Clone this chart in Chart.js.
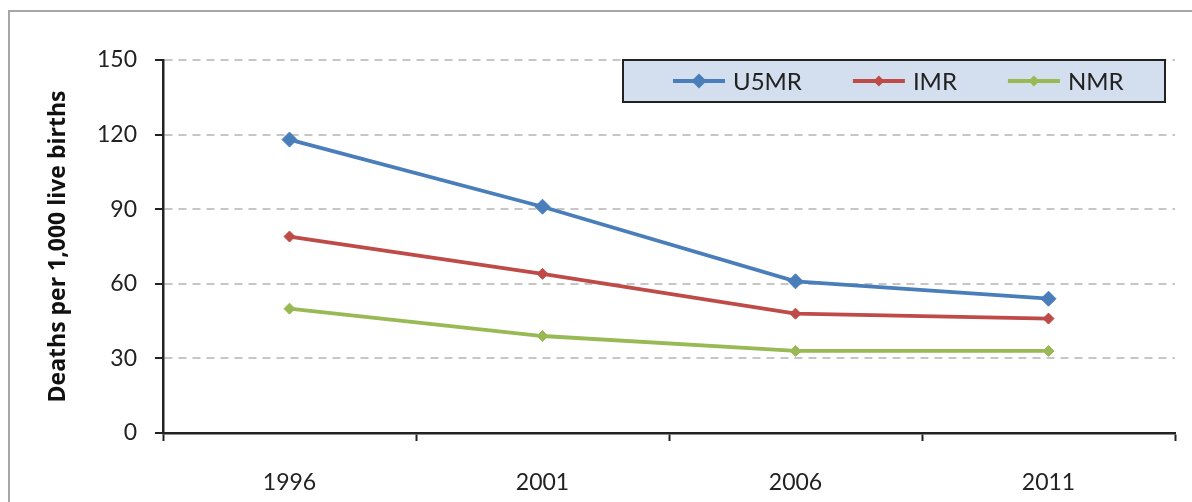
<!DOCTYPE html>
<html>
<head>
<meta charset="utf-8">
<script src="https://cdn.jsdelivr.net/npm/chart.js@4.4.0/dist/chart.umd.min.js"></script>
<style>
  body { margin: 0; background: #fff; overflow: hidden; }
  #wrap { position: relative; width: 1192px; height: 502px; }
  #frame { position: absolute; left: 8px; top: 10px; width: 1400px; height: 800px;
           border-top: 2px solid #a6a6a6; border-left: 2px solid #a6a6a6; }
  canvas { position: absolute; left: 0; top: 0; }
</style>
</head>
<body>
<div id="wrap">
  <div id="frame"></div>
  <canvas id="main-chart" width="1192" height="502"></canvas>
</div>
<script>
// survey years and rates (deaths per 1,000 live births)
const years = ['1996', '2001', '2006', '2011'];
const u5mr = [118, 91, 61, 54];
const imr = [79, 64, 48, 46];
const nmr = [50, 39, 33, 33];
const yTicks = [0, 30, 60, 90, 120, 150];

const FONT = 'Lato, "Open Sans", sans-serif';

// legend drawn as a framed box inside the plot, like the original
const boxLegend = {
  id: 'boxLegend',
  afterDraw(chart) {
    const ctx = chart.ctx;
    const bx = 623, by = 60, bw = 542, bh = 42;
    ctx.save();
    ctx.fillStyle = '#d3dfef';
    ctx.fillRect(bx, by, bw, bh);
    ctx.lineWidth = 2;
    ctx.strokeStyle = '#222';
    ctx.strokeRect(bx, by, bw, bh);
    ctx.font = '24px ' + FONT;
    ctx.textBaseline = 'middle';
    let x = bx + 50;
    const cy = by + bh / 2;
    chart.data.datasets.forEach(ds => {
      ctx.strokeStyle = ds.borderColor;
      ctx.lineWidth = 3.8;
      ctx.beginPath();
      ctx.moveTo(x, cy);
      ctx.lineTo(x + 52, cy);
      ctx.stroke();
      const r = ds.pointRadius;
      ctx.fillStyle = ds.borderColor;
      ctx.beginPath();
      ctx.moveTo(x + 26, cy - r);
      ctx.lineTo(x + 26 + r, cy);
      ctx.lineTo(x + 26, cy + r);
      ctx.lineTo(x + 26 - r, cy);
      ctx.closePath();
      ctx.fill();
      ctx.fillStyle = '#222';
      ctx.fillText(ds.label, x + 60, cy + 1);
      x += 60 + ctx.measureText(ds.label).width + 51;
    });
    ctx.restore();
  }
};

const mk = (label, data, color, r) => ({
  label, data,
  borderColor: color,
  backgroundColor: color,
  borderWidth: 3.8,
  pointStyle: 'rectRot',
  pointRadius: r,
  pointBorderWidth: 1,
  pointBackgroundColor: color,
  pointBorderColor: color,
  tension: 0
});

const config = {
  type: 'line',
  data: {
    labels: years,
    datasets: [
      mk('U5MR', u5mr, '#4a7ebb', 7.5),
      mk('IMR', imr, '#be4b48', 5.5),
      mk('NMR', nmr, '#98b954', 5.5)
    ]
  },
  options: {
    responsive: false,
    animation: false,
    layout: { padding: { left: 0, top: 60, right: 17, bottom: 0 } },
    plugins: { legend: { display: false }, tooltip: { enabled: false } },
    scales: {
      x: {
        offset: true,
        afterFit: s => { s.height = 69; },
        grid: {
          offset: true, drawOnChartArea: false, drawTicks: true,
          tickLength: 8, tickColor: '#222', tickWidth: 2
        },
        border: { display: true, color: '#222', width: 2.5 },
        ticks: { color: '#222', font: { family: FONT, size: 23 }, padding: 28, maxRotation: 0 }
      },
      y: {
        min: 0, max: 150,
        afterFit: s => { s.width = 163; },
        afterBuildTicks: s => { s.ticks = yTicks.map(v => ({ value: v })); },
        grid: {
          color: c => c.tick && c.tick.value === 0 ? 'rgba(0,0,0,0)' : '#c6c6c6',
          lineWidth: 2,
          tickBorderDash: [],
          tickColor: '#222',
          tickWidth: 2,
          tickLength: 8
        },
        border: { display: true, color: '#222', width: 2.5, dash: [8, 6] },
        ticks: { color: '#222', font: { family: FONT, size: 23 }, padding: 18 },
        title: {
          display: true,
          text: 'Deaths per 1,000 live births',
          color: '#111',
          font: { family: '"Open Sans", sans-serif', size: 23, weight: 'bold' },
          padding: { top: 45, bottom: 0 }
        }
      }
    }
  },
  plugins: [boxLegend]
};

const myLineChart = new Chart(document.getElementById('main-chart'), config);
</script>
</body>
</html>
